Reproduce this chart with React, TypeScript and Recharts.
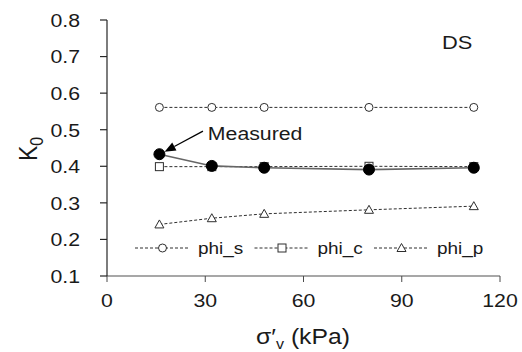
import React from "react";
import { LineChart, Line, XAxis, YAxis, Legend, ReferenceDot, ReferenceLine } from "recharts";

// ---- data ----
const stressKPa = [16, 32, 48, 80, 112];
const measured = [0.433, 0.401, 0.396, 0.391, 0.396];
const phiS = [0.561, 0.561, 0.561, 0.561, 0.561];
const phiC = [0.399, 0.399, 0.399, 0.4, 0.399];
const phiP = [0.241, 0.258, 0.27, 0.281, 0.291];
const xTicks = [0, 30, 60, 90, 120];
const yTicks = [0.1, 0.2, 0.3, 0.4, 0.5, 0.6, 0.7, 0.8];
const legendNames = ["phi_s", "phi_c", "phi_p"];
const annotationText = "Measured";
const panelText = "DS";

const rows = stressKPa.map((x, i) => ({
  x,
  measured: measured[i],
  phi_s: phiS[i],
  phi_c: phiC[i],
  phi_p: phiP[i],
}));

const SX = 1.15;
const FONT = "'Liberation Sans', Arial, sans-serif";
const TXT = "#1a1a1a";
const MK = "#2e2e2e";
const DASH = "3 2";

function STxt(props: any) {
  const { x, y, size, anchor = "start", children, rotate, fill = TXT } = props;
  return (
    <text
      transform={`translate(${x},${y}) scale(${SX},1)${rotate ? ` rotate(${rotate})` : ""}`}
      x={0}
      y={0}
      fontSize={size}
      fontFamily={FONT}
      textAnchor={anchor}
      fill={fill}
    >
      {children}
    </text>
  );
}

function marker(kind: string, cx: number, cy: number, key?: any) {
  if (kind === "circle")
    return <circle key={key} cx={cx} cy={cy} r={4} fill="#fff" stroke={MK} strokeWidth={1} />;
  if (kind === "square")
    return <rect key={key} x={cx - 4} y={cy - 4} width={8} height={8} fill="#fff" stroke={MK} strokeWidth={1} />;
  if (kind === "triangle")
    return (
      <polygon
        key={key}
        points={`${cx},${cy - 4.5} ${cx - 4.5},${cy + 3.5} ${cx + 4.5},${cy + 3.5}`}
        fill="#fff"
        stroke={MK}
        strokeWidth={1}
      />
    );
  return <circle key={key} cx={cx} cy={cy} r={5.5} fill="#000" stroke="#000" />;
}

const seriesDefs = [
  { key: "phi_s", name: legendNames[0], kind: "circle" },
  { key: "phi_c", name: legendNames[1], kind: "square" },
  { key: "phi_p", name: legendNames[2], kind: "triangle" },
];

const YTick = (p: any) => (
  <STxt x={p.x} y={p.y + 6.8} size={18.5} anchor="end">
    {Number(p.payload.value).toFixed(1)}
  </STxt>
);

const XTick = (p: any) => (
  <STxt x={p.x} y={p.y + 25} size={18.5} anchor="middle">
    {p.payload.value}
  </STxt>
);

const YTitle = () => (
  <text
    transform={`translate(37,161) scale(${SX},1) rotate(-90)`}
    fontSize={23}
    fontFamily={FONT}
    fill={TXT}
  >
    K
    <tspan fontSize={16} dy={5}>0</tspan>
  </text>
);

const XTitle = () => (
  <text
    transform={`translate(303,344) scale(${SX},1)`}
    fontSize={21.5}
    fontFamily={FONT}
    fill={TXT}
    textAnchor="middle"
  >
    σ′
    <tspan fontSize={14} dy={5}>v</tspan>
    <tspan dy={-5}> (kPa)</tspan>
  </text>
);

const renderLegend = () => (
  <svg width={522} height={30} style={{ display: "block", overflow: "visible" }}>
    {seriesDefs.map((s, i) => {
      const x0 = 135 + i * 119.5;
      return (
        <g key={s.key}>
          <line x1={x0} y1={15} x2={x0 + 55} y2={15} stroke={MK} strokeWidth={1} strokeDasharray={DASH} />
          {marker(s.kind, x0 + 27.5, 15)}
          <STxt x={x0 + 63} y={21} size={16.5}>{s.name}</STxt>
        </g>
      );
    })}
  </svg>
);

const Arrow = (p: any) => {
  const { x1, y1, x2, y2 } = p;
  const dx = x2 - x1;
  const dy = y2 - y1;
  const len = Math.sqrt(dx * dx + dy * dy);
  const ux = dx / len;
  const uy = dy / len;
  const hl = 11;
  const hw = 4.5;
  const bx = x2 - ux * hl;
  const by = y2 - uy * hl;
  return (
    <g>
      <line x1={x1} y1={y1} x2={bx} y2={by} stroke="#000" strokeWidth={1.3} />
      <polygon
        points={`${x2},${y2} ${bx - uy * hw},${by + ux * hw} ${bx + uy * hw},${by - ux * hw}`}
        fill="#000"
      />
    </g>
  );
};

export default function App() {
  return (
    <div style={{ position: "absolute", left: 0, top: 0, width: 522, height: 352, background: "#fff" }}>
      <LineChart width={522} height={352} data={rows} margin={{ top: 20, right: 22, bottom: 0, left: 0 }}>
        <XAxis
          dataKey="x"
          type="number"
          domain={[0, 120]}
          ticks={xTicks}
          interval={0}
          height={76}
          tickSize={6}
          tickMargin={0}
          axisLine={{ stroke: "#8a8a8a", strokeWidth: 1.6 }}
          tickLine={{ stroke: "#4a4a4a", strokeWidth: 1 }}
          tick={<XTick />}
          label={<XTitle />}
        />
        <YAxis
          type="number"
          domain={[0.1, 0.8]}
          ticks={yTicks}
          interval={0}
          width={107}
          tickSize={7}
          tickMargin={20}
          axisLine={{ stroke: "#262626", strokeWidth: 1.2 }}
          tickLine={{ stroke: "#262626", strokeWidth: 1.2 }}
          tick={<YTick />}
          label={<YTitle />}
        />
        <Legend verticalAlign="middle" align="center" layout="horizontal" content={renderLegend}
          wrapperStyle={{ left: 0, top: 233, width: 522, height: 30 }} />
        {seriesDefs.map((s) => (
          <Line
            key={s.key}
            dataKey={s.key}
            name={s.name}
            stroke={MK}
            strokeWidth={1}
            strokeDasharray={DASH}
            isAnimationActive={false}
            dot={(p: any) => marker(s.kind, p.cx, p.cy, `${s.key}-${p.index}`)}
            activeDot={false}
          />
        ))}
        <Line
          dataKey="measured"
          name={annotationText}
          stroke="#666666"
          strokeWidth={1.6}
          isAnimationActive={false}
          legendType="none"
          dot={(p: any) => marker("filled", p.cx, p.cy, `m-${p.index}`)}
          activeDot={false}
        />
        <ReferenceLine
          segment={[{ x: 29.3, y: 0.496 }, { x: 17.6, y: 0.44 }]}
          shape={<Arrow />}
        />
        <ReferenceDot
          x={30.8}
          y={0.473}
          r={0}
          shape={(p: any) => <STxt x={p.cx} y={p.cy} size={18.5}>{annotationText}</STxt>}
        />
        <ReferenceDot
          x={102.3}
          y={0.721}
          r={0}
          shape={(p: any) => <STxt x={p.cx} y={p.cy} size={19}>{panelText}</STxt>}
        />
      </LineChart>
    </div>
  );
}
